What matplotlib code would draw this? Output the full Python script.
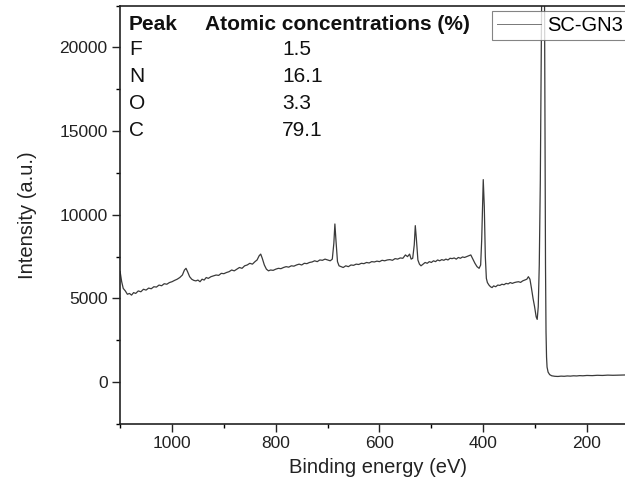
import matplotlib
matplotlib.use("Agg")
import matplotlib.pyplot as plt

plt.rcParams['font.family'] = ['Liberation Sans', 'DejaVu Sans']

series_name = "SC-GN3"
table_header = ["Peak", "Atomic concentrations (%)"]
peaks = ["F", "N", "O", "C"]
concentrations = ["1.5", "16.1", "3.3", "79.1"]

energy = [1100, 1097, 1094, 1090, 1086, 1082, 1078, 1074, 1070, 1065, 1060, 1055, 1050, 1045, 1040,
          1035, 1030, 1025, 1020, 1015, 1010, 1005, 1000, 995, 990, 985, 980, 976, 973, 970, 966, 962,
          958, 954, 950, 946, 942, 938, 934, 930, 925, 920, 915, 910, 905, 900, 895, 890, 885, 880,
          875, 870, 865, 860, 855, 850, 845, 840, 836, 832, 829, 826, 822, 818, 814, 810, 805, 800,
          795, 790, 785, 780, 775, 770, 765, 760, 755, 750, 745, 740, 735, 730, 725, 720, 715, 710,
          705, 700, 695, 691, 688, 686, 684, 681, 678, 674, 670, 665, 660, 655, 650, 645, 640, 635,
          630, 625, 620, 615, 610, 605, 600, 595, 590, 585, 580, 575, 570, 565, 560, 555, 550, 546,
          542, 539, 536, 533, 531, 529, 526, 523, 520, 516, 512, 508, 504, 500, 496, 492, 488, 484,
          480, 476, 472, 468, 464, 460, 456, 452, 448, 444, 440, 436, 432, 428, 424, 420, 416, 412,
          408, 405, 403, 401, 400, 398, 396, 394, 392, 389, 386, 383, 380, 376, 372, 368, 364, 360,
          356, 352, 348, 344, 340, 336, 332, 328, 324, 320, 316, 313, 310, 307, 304, 301, 298, 296,
          294, 292, 290, 288, 287, 285, 284, 283, 282, 281, 280, 279, 278, 277, 275, 272, 268, 262,
          256, 250, 244, 238, 232, 226, 220, 214, 208, 200, 190, 180, 170, 160, 150, 140, 130, 125]

intensity = [6600, 6000, 5600, 5450, 5250, 5300, 5200, 5350, 5300, 5450, 5400, 5550, 5500, 5620, 5580,
             5700, 5680, 5800, 5760, 5880, 5850, 5950, 6000, 6080, 6150, 6250, 6400, 6700, 6800, 6600, 6300, 6150,
             6080, 6050, 6100, 6000, 6150, 6100, 6250, 6200, 6300, 6350, 6400, 6380, 6500, 6480, 6550, 6600, 6700, 6650,
             6750, 6850, 6800, 6950, 7000, 7100, 7050, 7200, 7300, 7550, 7650, 7400, 7000, 6750, 6650, 6700, 6680, 6750,
             6800, 6780, 6850, 6900, 6870, 6950, 6930, 7000, 7050, 7000, 7100, 7080, 7150, 7180, 7250, 7200, 7300, 7280,
             7350, 7300, 7250, 7350, 8300, 9450, 8500, 7200, 6950, 6900, 6850, 6950, 6900, 7000, 6980, 7050, 7030, 7100,
             7080, 7150, 7120, 7200, 7180, 7230, 7200, 7280, 7250, 7300, 7320, 7280, 7380, 7350, 7420, 7400, 7600, 7500,
             7650, 7350, 7400, 8200, 9350, 8600, 7300, 7050, 6950, 7050, 7150, 7100, 7200, 7150, 7250, 7200, 7300, 7250,
             7320, 7280, 7350, 7300, 7400, 7380, 7420, 7350, 7450, 7400, 7480, 7450, 7500, 7550, 7600, 7350, 7100, 6900,
             6800, 7000, 8500, 11000, 12100, 10500, 7500, 6200, 5950, 5800, 5700, 5650, 5750, 5700, 5800, 5780, 5850, 5820,
             5900, 5870, 5950, 5900, 5950, 5980, 6000, 5960, 6050, 6100, 6150, 6300, 6150, 5600, 5000, 4500, 3900, 3750,
             4500, 7000, 12000, 20000, 25000, 28000, 30000, 28000, 24000, 15000, 7000, 3000, 1500, 900, 600, 450, 380, 350,
             340, 360, 350, 370, 360, 380, 370, 390, 380, 400, 390, 410, 400, 420, 410, 420, 430, 430]

fig = plt.figure(figsize=(6.25, 4.9), dpi=100)
ax = fig.add_axes([0.1922, 0.1347, 0.8632, 0.854])
ax.plot(energy, intensity, color='#3a3a3a', lw=0.9, label=series_name)
ax.set_xlim(1100, 60)
ax.set_ylim(-2500, 22500)
ax.set_xticks([1000, 800, 600, 400, 200])
ax.set_xticks([1100, 900, 700, 500, 300, 100], minor=True)
ax.set_yticks([0, 5000, 10000, 15000, 20000])
ax.set_yticks([-2500, 2500, 7500, 12500, 17500, 22500], minor=True)
ax.tick_params(which='major', direction='out', length=5.5, width=1.0, labelsize=12.5, colors='#222222')
ax.tick_params(which='minor', direction='out', length=3, width=1.0)
for s in ax.spines.values():
    s.set_linewidth(1.2)
    s.set_color('#222222')
ax.spines['right'].set_visible(False)
ax.set_xlabel("Binding energy (eV)", fontsize=14.5, color='#222222')
ax.set_ylabel("Intensity (a.u.)", fontsize=14.5, color='#222222')
ax.xaxis.set_label_coords(0.478, -0.103)
ax.yaxis.set_label_coords(-0.172, 0.5)
ax.xaxis.label.set_va('center')
ax.yaxis.label.set_va('center')

leg = ax.legend(loc='upper left', bbox_to_anchor=(0.689, 0.9876), fontsize=14.5, frameon=True,
                fancybox=False, edgecolor='#666666', handlelength=2.2, handletextpad=0.3,
                borderpad=0.25, borderaxespad=0)
leg.get_frame().set_linewidth(0.8)
for h in leg.get_lines():
    h.set_linewidth(0.7)
    h.set_color('#777777')

fs = 15
fig.text(0.2064, 0.949, table_header[0], fontsize=fs, fontweight='bold', va='center', ha='left', color='#111111')
fig.text(0.328, 0.949, table_header[1], fontsize=fs, fontweight='bold', va='center', ha='left', color='#111111')
rows_y = [0.898, 0.843, 0.788, 0.733]
for p, c, yy in zip(peaks, concentrations, rows_y):
    fig.text(0.2064, yy, p, fontsize=fs, va='center', ha='left', color='#111111')
    fig.text(0.451, yy, c, fontsize=fs, va='center', ha='left', color='#111111')

fig.savefig("out.png", dpi=100)
